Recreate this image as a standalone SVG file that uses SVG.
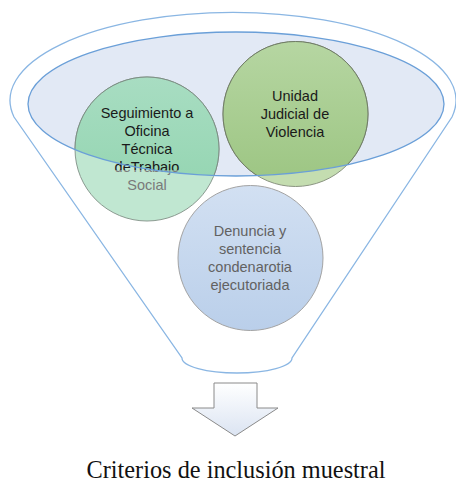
<svg xmlns="http://www.w3.org/2000/svg" width="456" height="482" viewBox="0 0 456 482">
<style>
.t{font-family:"Liberation Sans",Arial,sans-serif;font-size:14.5px;text-anchor:middle}
.dk{fill:#1a1a1a}
.gr{fill:#7a7a7a}
.dn{fill:#626262}
.cap{font-family:"Liberation Serif","Times New Roman",serif;font-size:24.3px;text-anchor:middle;fill:#111}
</style>
<defs>
<clipPath id="inner"><ellipse cx="236" cy="104" rx="208" ry="72"/></clipPath>
<linearGradient id="gS" x1="0" y1="0" x2="0" y2="1"><stop offset="0" stop-color="#a8ddc2"/><stop offset="1" stop-color="#8fd3ad"/></linearGradient>
<linearGradient id="gU" x1="0" y1="0" x2="0" y2="1"><stop offset="0" stop-color="#b6d6a2"/><stop offset="1" stop-color="#9cc582"/></linearGradient>
<linearGradient id="gD" x1="0" y1="0" x2="0" y2="1"><stop offset="0" stop-color="#d2e0f2"/><stop offset="1" stop-color="#bacfea"/></linearGradient>
<linearGradient id="gA" x1="0" y1="0" x2="0" y2="1"><stop offset="0" stop-color="#ffffff"/><stop offset="1" stop-color="#dbe4f2"/></linearGradient>
<linearGradient id="gT" gradientUnits="userSpaceOnUse" x1="0" y1="160" x2="0" y2="180"><stop offset="0.5" stop-color="#1a1a1a"/><stop offset="0.5" stop-color="#7a7a7a"/></linearGradient>
</defs>
<g id="funnel">
<path d="M 14 117 A 223 88 0 1 1 452 117 L 292 358 A 55 15 0 0 1 182 358 Z" fill="#ffffff" stroke="#8ab6e3" stroke-width="1.3"/>
<ellipse cx="236" cy="104" rx="208" ry="72" fill="#e2e9f5"/>
</g>
<g id="node-seguimiento">
<circle cx="147" cy="149" r="72" fill="#c0e7d1" stroke="#8a9a90" stroke-width="1"/>
<g clip-path="url(#inner)">
<circle cx="147" cy="149" r="72" fill="url(#gS)" stroke="#7d8d84" stroke-width="1"/>
</g>
<text class="t dk" x="147" y="118">Seguimiento a</text>
<text class="t dk" x="147" y="136">Oficina</text>
<text class="t dk" x="147" y="154">Técnica</text>
<text class="t" x="147" y="172" fill="url(#gT)">deTrabajo</text>
<text class="t gr" x="147" y="190">Social</text>
</g>
<g id="node-unidad">
<circle cx="295.5" cy="114" r="72.5" fill="#c4ddb0" stroke="#8a9480" stroke-width="1"/>
<g clip-path="url(#inner)">
<circle cx="295.5" cy="114" r="72.5" fill="url(#gU)" stroke="#6f7a66" stroke-width="1"/>
</g>
<text class="t dk" x="295" y="101">Unidad</text>
<text class="t dk" x="295" y="119">Judicial de</text>
<text class="t dk" x="295" y="137">Violencia</text>
</g>
<g id="node-denuncia">
<circle cx="250.5" cy="258" r="72.5" fill="url(#gD)" stroke="#a3a3a3" stroke-width="1"/>
<text class="t dn" x="250" y="236">Denuncia y</text>
<text class="t dn" x="250" y="254">sentencia</text>
<text class="t dn" x="250" y="272">condenarotia</text>
<text class="t dn" x="250" y="290">ejecutoriada</text>
</g>
<g id="inner-outline">
<ellipse cx="236" cy="104" rx="208" ry="72" fill="none" stroke="#6a9fd8" stroke-width="1.3"/>
</g>
<g id="connectors">
<path d="M 214 383 L 257 383 L 257 408 L 278 408 L 235 436 L 192 408 L 214 408 Z" fill="url(#gA)" stroke="#8a8a8a" stroke-width="1"/>
</g>
<g id="caption">
<text class="cap" x="236" y="478">Criterios de inclusión muestral</text>
</g>
</svg>
